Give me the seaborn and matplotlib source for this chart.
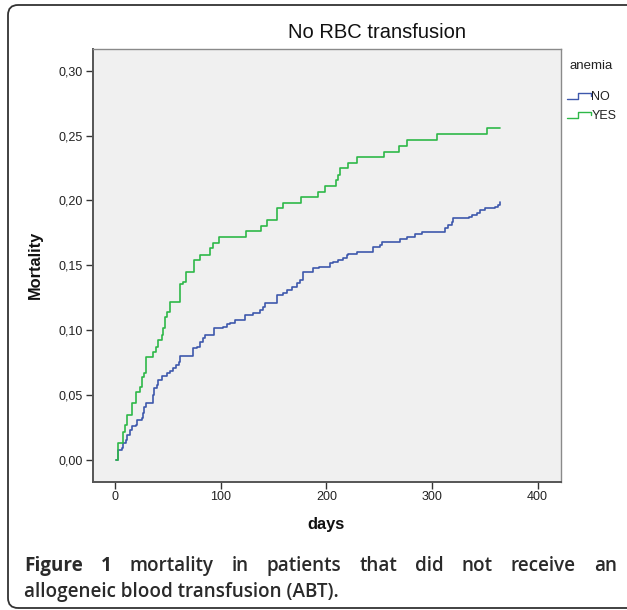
import numpy as np
import pandas as pd
import matplotlib
matplotlib.use("Agg")
import matplotlib.pyplot as plt
import seaborn as sns
from matplotlib.lines import Line2D
from matplotlib.legend_handler import HandlerBase
from matplotlib.patches import FancyBboxPatch
from matplotlib.transforms import IdentityTransform

# ---------------- data ----------------
groups = ["NO", "YES"]

no_days = [0.7, 2.9, 3.8, 6.0, 7.0, 10.1, 11.4, 13.9, 15.5, 19.6, 20.8, 25.0, 25.9, 27.5,
           28.8, 34.5, 35.4, 36.6, 39.2, 40.7, 43.9, 48.7, 51.8, 54.9, 57.5, 60.6, 61.3,
           73.3, 77.1, 80.2, 83.3, 85.0, 93.8, 102.3, 105.5, 108.6, 113.4, 122.8, 130.7,
           137.0, 140.2, 141.8, 152.8, 159.1, 162.3, 167.0, 171.8, 175.0, 178.0, 187.5,
           192.5, 203.3, 206.4, 211.2, 216.0, 219.1, 220.6, 228.6, 244.3, 250.7, 252.3,
           269.6, 276.0, 283.8, 290.0, 312.0, 315.3, 318.6, 320.0, 335.2, 337.5, 342.2,
           345.4, 350.1, 359.6, 362.7, 364.3]
no_mort = [0.0, 0.0077, 0.0077, 0.0090, 0.0129, 0.0154, 0.0193, 0.0231, 0.0262, 0.0270,
           0.0308, 0.0321, 0.0360, 0.0410, 0.0437, 0.0442, 0.0500, 0.0552, 0.0578, 0.0616,
           0.0647, 0.0673, 0.0688, 0.0707, 0.0732, 0.0758, 0.0800, 0.0860, 0.0873, 0.0910,
           0.0938, 0.0963, 0.1015, 0.1027, 0.1048, 0.1053, 0.1080, 0.1117, 0.1130, 0.1156,
           0.1181, 0.1207, 0.1270, 0.1285, 0.1310, 0.1336, 0.1362, 0.1387, 0.1450, 0.1477,
           0.1487, 0.1515, 0.1528, 0.1541, 0.1554, 0.1580, 0.1590, 0.1605, 0.1644, 0.1657,
           0.1680, 0.1700, 0.1720, 0.1740, 0.1760, 0.1785, 0.1810, 0.1837, 0.1867, 0.1875,
           0.1888, 0.1906, 0.1927, 0.1940, 0.1947, 0.1965, 0.1990]

yes_days = [0.7, 2.9, 7.6, 9.2, 10.8, 15.5, 19.6, 23.4, 25.0, 27.5, 29.1, 36.0, 38.5,
            40.7, 43.9, 45.5, 47.1, 48.7, 51.8, 61.3, 64.4, 67.0, 74.5, 80.2, 89.7, 92.8,
            98.5, 123.5, 137.7, 143.4, 152.8, 158.5, 175.5, 192.3, 198.6, 209.0, 211.0,
            212.8, 220.6, 228.6, 254.4, 269.0, 276.5, 305.0, 351.7, 364.3]
yes_mort = [0.0, 0.0129, 0.0218, 0.0270, 0.0347, 0.0437, 0.0527, 0.0565, 0.0642, 0.0668,
            0.0791, 0.0835, 0.0873, 0.0925, 0.0963, 0.1015, 0.1105, 0.1143, 0.1220, 0.1360,
            0.1374, 0.1451, 0.1541, 0.1580, 0.1631, 0.1670, 0.1721, 0.1765, 0.1800, 0.1850,
            0.1940, 0.1980, 0.2024, 0.2068, 0.2110, 0.2158, 0.2200, 0.2248, 0.2290, 0.2337,
            0.2376, 0.2422, 0.2466, 0.2510, 0.2556, 0.2556]

x_ticks = [0, 100, 200, 300, 400]
y_ticks = [0.00, 0.05, 0.10, 0.15, 0.20, 0.25, 0.30]
y_tick_labels = ["0,00", "0,05", "0,10", "0,15", "0,20", "0,25", "0,30"]

title_text = "No RBC transfusion"
x_label = "days"
y_label = "Mortality"
legend_title = "anemia"
caption_bold = ["Figure", "1"]
caption_line1 = ["mortality", "in", "patients", "that", "did", "not", "receive", "an"]
caption_line2 = "allogeneic blood transfusion (ABT)."

colors = {"NO": "#3E58AC", "YES": "#2EB848"}

# ---------------- figure ----------------
W, H = 627, 610
sns.set_theme(style="white")
plt.rcParams['font.family'] = ['Liberation Sans', 'DejaVu Sans']

fig = plt.figure(figsize=(W / 100, H / 100), dpi=100)
fig.patch.set_facecolor("white")

ax_l, ax_r, ax_t, ax_b = 92.7, 561.0, 49.0, 481.7
ax = fig.add_axes([ax_l / W, 1 - ax_b / H, (ax_r - ax_l) / W, (ax_b - ax_t) / H])
ax.set_facecolor("#F0F0F0")

df = pd.DataFrame({
    "days": no_days + yes_days,
    "Mortality": no_mort + yes_mort,
    "anemia": ["NO"] * len(no_days) + ["YES"] * len(yes_days),
})
sns.lineplot(data=df, x="days", y="Mortality", hue="anemia", hue_order=groups,
             palette=colors, drawstyle="steps-post", estimator=None, sort=False,
             lw=1.2, ax=ax, legend=False)

ax.set_xlim(-21.4, 422.1)
ax.set_ylim(-0.0167, 0.3167)
ax.set_xticks(x_ticks)
ax.set_xticklabels([str(t) for t in x_ticks])
ax.set_yticks(y_ticks)
ax.set_yticklabels(y_tick_labels)
ax.tick_params(axis="both", which="major", direction="out", length=5, width=1.0,
               color="#333333", labelsize=9, labelcolor="#222222", pad=2,
               bottom=True, left=True)
for side in ["left", "bottom"]:
    ax.spines[side].set_color("#555555")
    ax.spines[side].set_linewidth(1.4)
for side in ["top", "right"]:
    ax.spines[side].set_color("#8a8a8a")
    ax.spines[side].set_linewidth(1.0)

ax.set_xlabel(x_label, fontsize=11.8, fontweight="bold", color="#111111")
ax.set_ylabel(y_label, fontsize=11.8, fontweight="bold", color="#111111")
ax.xaxis.label.set_va("center")
ax.yaxis.label.set_va("center")
ax.xaxis.set_label_coords((326 - ax_l) / (ax_r - ax_l), (ax_b - 524) / (ax_b - ax_t))
ax.yaxis.set_label_coords((35 - ax_l) / (ax_r - ax_l), 0.5)

ax.set_title(title_text, fontsize=14.5, color="#111111", pad=0,
             x=(377 - ax_l) / (ax_r - ax_l), y=(ax_b - 33) / (ax_b - ax_t), va="center")


# legend with step-shaped icons
class StepHandler(HandlerBase):
    def create_artists(self, legend, orig_handle, xdescent, ydescent, width, height,
                       fontsize, trans):
        x0 = -xdescent
        y0 = -ydescent
        xs = [x0, x0 + 0.45 * width, x0 + 0.45 * width, x0 + width, x0 + width]
        ys = [y0 + 0.15 * height, y0 + 0.15 * height, y0 + 0.75 * height,
              y0 + 0.75 * height, y0 + 0.45 * height]
        ln = Line2D(xs, ys, color=orig_handle.get_color(), lw=1.0)
        ln.set_transform(trans)
        return [ln]


handles = [Line2D([], [], color=colors[g]) for g in groups]
fig.text(570 / W, 1 - 66 / H, legend_title, fontsize=9.5, color="#222222",
         ha="left", va="center")
leg = fig.legend(handles, groups, loc="upper left",
                 bbox_to_anchor=(567 / W, 1 - 91 / H), frameon=False,
                 handler_map={Line2D: StepHandler()}, fontsize=9,
                 handlelength=1.9, handletextpad=0.05, labelspacing=0.55,
                 borderpad=0, borderaxespad=0)
for t in leg.get_texts():
    t.set_color("#222222")

# page frame with rounded corners
frame = FancyBboxPatch((8, 2), 700, 603, boxstyle="round,pad=0,rounding_size=10",
                       transform=IdentityTransform(), facecolor="none",
                       edgecolor="#333333", linewidth=1.3)
fig.patches.append(frame)

# justified caption
renderer = fig.canvas.get_renderer()
cap_font = ["Open Sans", "DejaVu Sans"]
cap_size = 13.6


def place_line(words, y_px, x0, x1, justify=True):
    texts = []
    for w, bold in words:
        t = fig.text(0, 0, w, fontsize=cap_size, family=cap_font,
                     fontweight="bold" if bold else "semibold", color="#2a2a2a",
                     ha="left", va="baseline")
        texts.append(t)
    widths = [t.get_window_extent(renderer).width for t in texts]
    if justify and len(texts) > 1:
        gap = (x1 - x0 - sum(widths)) / (len(texts) - 1)
    else:
        gap = 0
    x = x0
    for t, w in zip(texts, widths):
        t.set_position((x / W, 1 - y_px / H))
        x += w + gap


line1 = [(w, True) for w in caption_bold] + [(w, False) for w in caption_line1]
place_line(line1, 571, 24, 617)
place_line([(caption_line2, False)], 597, 24, 617, justify=False)

fig.savefig("out.png", dpi=100)
